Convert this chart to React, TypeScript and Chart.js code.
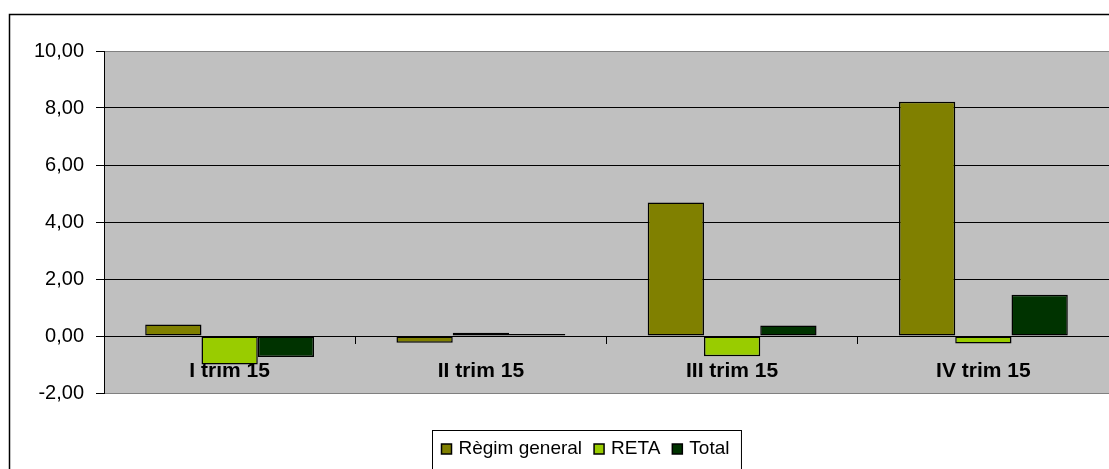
import React, { useEffect, useRef } from 'react';
import { Chart, registerables } from 'chart.js';

Chart.register(...registerables);

const categories = ['I trim 15', 'II trim 15', 'III trim 15', 'IV trim 15'];
const seriesNames = ['Règim general', 'RETA', 'Total'];
const regimGeneral = [0.4, -0.24, 4.68, 8.22];
const reta = [-1.0, 0.11, -0.71, -0.26];
const total = [-0.74, 0.07, 0.37, 1.45];
const seriesColors = ['#808000', '#99CC00', '#003300'];
const yMin = -2;
const yMax = 10;
const yStep = 2;

const FONT = '"Liberation Sans", Arial, sans-serif';
const W = 1109;
const H = 469;

const framePlugin = {
  id: 'frameBg',
  beforeDraw(chart: any) {
    const { ctx, chartArea } = chart;
    ctx.save();
    ctx.fillStyle = '#ffffff';
    ctx.fillRect(0, 0, chart.width, chart.height);
    ctx.fillStyle = '#C0C0C0';
    ctx.fillRect(chartArea.left, chartArea.top, chartArea.right - chartArea.left, chartArea.bottom - chartArea.top);
    ctx.strokeStyle = '#000';
    ctx.lineWidth = 1.5;
    ctx.strokeRect(9.5, 14.5, chart.width + 20, chart.height + 20);
    ctx.restore();
  },
  afterDraw(chart: any) {
    const { ctx } = chart;
    ctx.save();
    // legend
    ctx.font = `19px ${FONT}`;
    ctx.textBaseline = 'middle';
    const boxLeft = 432.5;
    const boxTop = 430.5;
    const boxH = 40;
    const cy = 449;
    let x = boxLeft + 9;
    const marker = 10;
    chart.data.datasets.forEach((ds: any) => {
      ctx.fillStyle = ds.backgroundColor;
      ctx.fillRect(x, cy - marker / 2, marker, marker);
      ctx.strokeStyle = '#000';
      ctx.lineWidth = 1.5;
      ctx.strokeRect(x, cy - marker / 2, marker, marker);
      x += marker + 7;
      ctx.fillStyle = '#000';
      ctx.fillText(ds.label, x, cy);
      x += ctx.measureText(ds.label).width + 12;
    });
    ctx.strokeStyle = '#000';
    ctx.lineWidth = 1;
    ctx.strokeRect(boxLeft, boxTop, x - boxLeft, boxH);
    ctx.restore();
  },
};

export default function App() {
  const ref = useRef<HTMLCanvasElement | null>(null);
  useEffect(() => {
    if (!ref.current) return;
    const chart = new Chart(ref.current, {
      type: 'bar',
      data: {
        labels: categories,
        datasets: [
          { label: seriesNames[0], data: regimGeneral, backgroundColor: seriesColors[0] },
          { label: seriesNames[1], data: reta, backgroundColor: seriesColors[1] },
          { label: seriesNames[2], data: total, backgroundColor: seriesColors[2] },
        ].map((d) => ({
          ...d,
          borderColor: '#000',
          borderWidth: 1.5,
          borderSkipped: false,
          categoryPercentage: 0.672,
          barPercentage: 1,
        })),
      },
      options: {
        responsive: false,
        animation: false,
        devicePixelRatio: 1,
        layout: { padding: { top: 51, bottom: H - 393, left: 0, right: 0 } },
        plugins: {
          legend: { display: false },
          tooltip: { enabled: false },
        },
        scales: {
          x: {
            type: 'category',
            position: { y: 0 } as any,
            offset: true,
            grid: {
              offset: true,
              drawOnChartArea: false,
              color: '#000',
              tickLength: 7,
            },
            border: { color: '#000', width: 1 },
            ticks: {
              color: '#000',
              font: { family: FONT, size: 21, weight: 'bold' },
              padding: 16,
              maxRotation: 0,
              autoSkip: false,
            },
          },
          y: {
            min: yMin,
            max: yMax,
            afterFit(scale: any) {
              scale.width = 104;
            },
            grid: {
              color: (c: any) =>
                c.tick && (c.tick.value === yMax || c.tick.value === yMin) ? '#808080' : '#000',
              tickColor: '#000',
              tickLength: 8,
            },
            border: { color: '#000', width: 1 },
            ticks: {
              stepSize: yStep,
              color: '#000',
              padding: 12,
              font: { family: FONT, size: 20 },
              callback: (v: any) => Number(v).toFixed(2).replace('.', ','),
            },
          },
        },
      },
      plugins: [framePlugin],
    });
    return () => chart.destroy();
  }, []);
  return (
    <div style={{ position: 'fixed', left: 0, top: 0, width: W, height: H, overflow: 'hidden', background: '#fff' }}>
      <canvas ref={ref} width={W} height={H} style={{ display: 'block', width: W, height: H }} />
    </div>
  );
}
